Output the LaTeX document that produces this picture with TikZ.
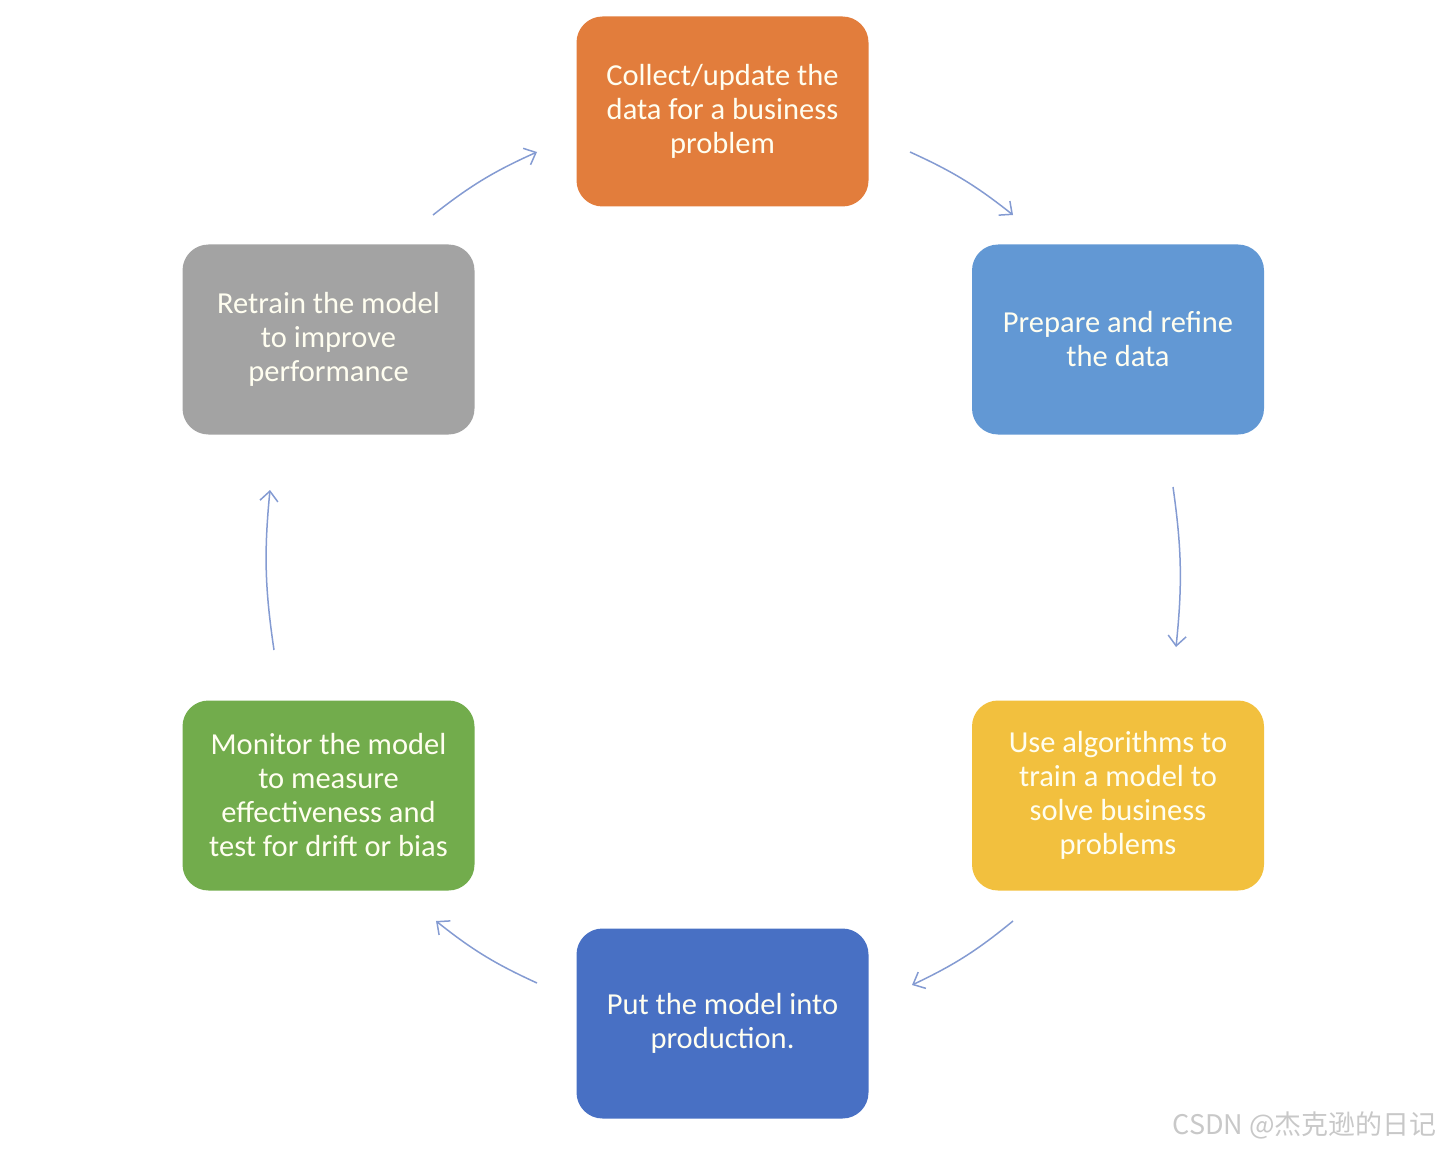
\documentclass[tikz,border=0pt]{standalone}
\usepackage{fontspec}
\setmainfont{Carlito}
\newfontfamily\cjkfont{Noto Sans CJK SC}
\usetikzlibrary{arrows.meta}
\definecolor{boxorange}{RGB}{226,125,60}
\definecolor{boxlightblue}{RGB}{98,152,212}
\definecolor{boxyellow}{RGB}{242,192,62}
\definecolor{boxblue}{RGB}{72,112,196}
\definecolor{boxgreen}{RGB}{114,172,76}
\definecolor{boxgray}{RGB}{163,163,163}
\definecolor{arrowblue}{RGB}{132,155,210}
\definecolor{marktext}{RGB}{200,200,200}

\begin{document}
\begin{tikzpicture}[x=1pt, y=-1pt,
  stage/.style={rounded corners=26pt, minimum width=292pt, minimum height=190pt,
    align=center, text=white!94!yellow, font=\fontsize{30.5}{34}\selectfont, inner sep=0pt},
  cycle/.style={arrowblue, line width=1.5pt, bend left=7,
    -{Straight Barb[length=10pt, width=18pt, line width=1.5pt]}}]
  \useasboundingbox (0,0) rectangle (1442,1150);
  % Stages of the cycle
  \node[stage, fill=boxorange] (collect) at (722.5,111.5) {Collect/update the\\data for a business\\problem};
  \node[stage, fill=boxlightblue] (prepare) at (1118,339.5) {Prepare and refine\\the data};
  \node[stage, fill=boxyellow] (train) at (1118,795.5) {Use algorithms to\\train a model to\\solve business\\problems};
  \node[stage, fill=boxblue] (deploy) at (722.5,1023.5) {Put the model into\\production.};
  \node[stage, fill=boxgreen] (monitor) at (328.5,795.5) {Monitor the model\\to measure\\effectiveness and\\test for drift or bias};
  \node[stage, fill=boxgray] (retrain) at (328.5,339.5) {Retrain the model\\to improve\\performance};
  % Arrow ends
  \coordinate (a1) at (910,152);   \coordinate (b1) at (1013,215);
  \coordinate (a2) at (1173,487);  \coordinate (b2) at (1176,647);
  \coordinate (a3) at (1013,921);  \coordinate (b3) at (912,985);
  \coordinate (a4) at (537,983);   \coordinate (b4) at (436,921);
  \coordinate (a5) at (274,650);   \coordinate (b5) at (270,490);
  \coordinate (a6) at (433,215);   \coordinate (b6) at (537,152);
  % Arrows
  \draw[cycle] (a1) to (b1);
  \draw[cycle] (a2) to (b2);
  \draw[cycle] (a3) to (b3);
  \draw[cycle] (a4) to (b4);
  \draw[cycle] (a5) to (b5);
  \draw[cycle] (a6) to (b6);
  % Watermark
  \node[anchor=east, text=marktext, font=\cjkfont\fontsize{27}{30}\selectfont, inner sep=0pt] (mark) at (1437,1125) {CSDN @杰克逊的日记};
\end{tikzpicture}
\end{document}
